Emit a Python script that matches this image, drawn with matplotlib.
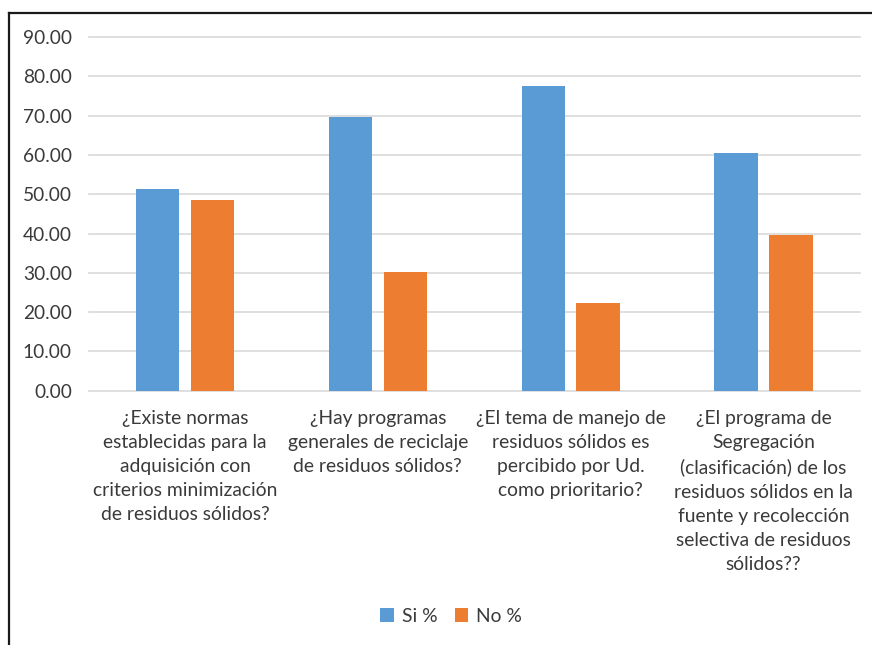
import numpy as np
import matplotlib
matplotlib.use("Agg")
import matplotlib.pyplot as plt
from matplotlib.lines import Line2D

# data
categories = [
    "¿Existe normas\nestablecidas para la\nadquisición con\ncriterios minimización\nde residuos sólidos?",
    "¿Hay programas\ngenerales de reciclaje\nde residuos sólidos?",
    "¿El tema de manejo de\nresiduos sólidos es\npercibido por Ud.\ncomo prioritario?",
    "¿El programa de\nSegregación\n(clasificación) de los\nresiduos sólidos en la\nfuente y recolección\nselectiva de residuos\nsólidos??",
]
si_pct = [51.4, 69.7, 77.6, 60.4]
no_pct = [48.6, 30.3, 22.4, 39.6]
series_names = ["Si %", "No %"]
y_ticks = [0, 10, 20, 30, 40, 50, 60, 70, 80, 90]

blue = "#5B9BD5"
orange = "#ED7D31"
txt = "#3a3a3a"

plt.rcParams['font.family'] = ['Lato', 'DejaVu Sans']

fig = plt.figure(figsize=(8.72, 6.45), dpi=100)
ax = fig.add_axes([88.5/872, 1-390.7/645, (860-88.5)/872, (390.7-37.2)/645])

x = np.arange(len(categories))
w = 0.225
off = 0.142
ax.bar(x - off, si_pct, w, color=blue, label=series_names[0], zorder=3)
ax.bar(x + off, no_pct, w, color=orange, label=series_names[1], zorder=3)

ax.set_xlim(-0.5, len(categories) - 0.5)
ax.set_ylim(0, 90)
ax.set_yticks(y_ticks)
ax.set_yticklabels([f"{v:.2f}" for v in y_ticks], fontsize=13.8, color=txt)
ax.set_xticks(x)
ax.set_xticklabels(categories, fontsize=13.9, color=txt, linespacing=1.5, va='top')
ax.tick_params(axis='both', length=0)
ax.tick_params(axis='y', pad=12)
ax.tick_params(axis='x', pad=14)

for s in ax.spines.values():
    s.set_visible(False)
ax.yaxis.grid(True, color="#D9D9D9", lw=1.2, zorder=0)
for gl in ax.get_ygridlines():
    gl.set_clip_on(False)
ax.set_axisbelow(True)

fig.legend(loc='center', bbox_to_anchor=(451/872, 1-616/645), ncol=2, frameon=False,
           fontsize=13.9, handlelength=0.7, handleheight=0.7, handletextpad=0.4,
           columnspacing=0.9, labelcolor=txt)

# outer frame
fx = 9/872
fy = 1 - 12.5/645
fig.add_artist(Line2D([fx, fx], [0, fy], color="#1a1a1a", lw=1.6, transform=fig.transFigure))
fig.add_artist(Line2D([fx, 1], [fy, fy], color="#1a1a1a", lw=1.6, transform=fig.transFigure))

fig.savefig("out.png", dpi=100)
